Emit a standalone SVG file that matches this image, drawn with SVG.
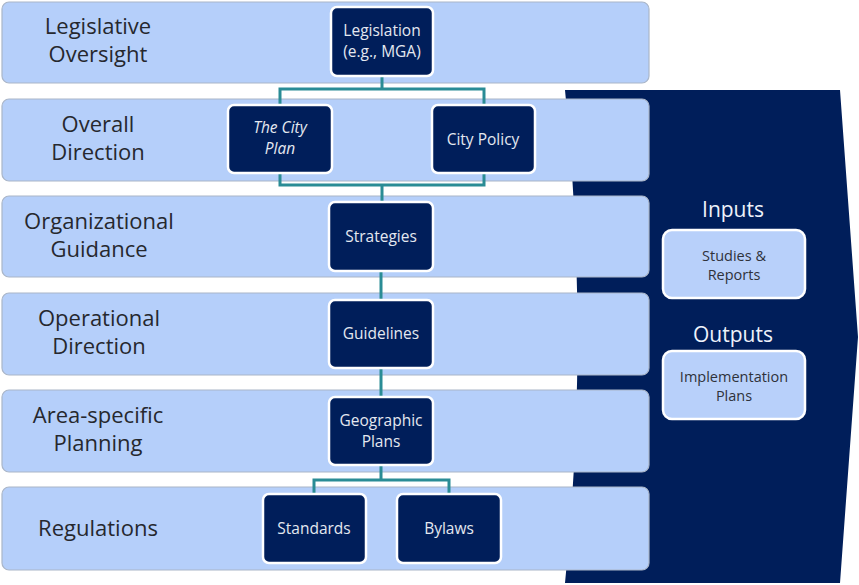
<svg xmlns="http://www.w3.org/2000/svg" width="859" height="585" viewBox="0 0 859 585">
<style>
.band{fill:#b5cffa;stroke:#aab6c8;stroke-width:1.2}
.blabel{font-family:"Open Sans","Liberation Sans",sans-serif;font-size:22px;fill:#26282e;text-anchor:middle}
.node{fill:#001e5a;stroke:#ffffff;stroke-width:2.5}
.ntext{font-family:"Open Sans","Liberation Sans",sans-serif;font-size:15.5px;fill:#e4e8f0;text-anchor:middle}
.side{fill:#b8d0fa;stroke:#ffffff;stroke-width:2.5}
.stext{font-family:"Open Sans","Liberation Sans",sans-serif;font-size:14.5px;fill:#2f323a;text-anchor:middle}
.stitle{font-family:"Open Sans","Liberation Sans",sans-serif;font-size:21px;fill:#eef2fa;text-anchor:middle}
.conn{fill:none;stroke:#2a8c95;stroke-width:3}
</style>
<g id="arrow-bg">
<path d="M565,90 L840,90 L858,337 L840,583 L565,583 Q590,337 565,90 Z" fill="#001e5a"/>
</g>
<g id="bands">
<g id="band-legislative"><rect class="band" x="2" y="2" width="647" height="81" rx="7"/><text class="blabel" x="98" y="34">Legislative</text><text class="blabel" x="98" y="62">Oversight</text></g>
<g id="band-overall"><rect class="band" x="2" y="99" width="647" height="82" rx="7"/><text class="blabel" x="98" y="132">Overall</text><text class="blabel" x="98" y="160">Direction</text></g>
<g id="band-organizational"><rect class="band" x="2" y="196" width="647" height="81" rx="7"/><text class="blabel" x="99" y="229">Organizational</text><text class="blabel" x="99" y="257">Guidance</text></g>
<g id="band-operational"><rect class="band" x="2" y="293" width="647" height="82" rx="7"/><text class="blabel" x="99" y="326">Operational</text><text class="blabel" x="99" y="354">Direction</text></g>
<g id="band-area"><rect class="band" x="2" y="390" width="647" height="82" rx="7"/><text class="blabel" x="98" y="423">Area-specific</text><text class="blabel" x="98" y="451">Planning</text></g>
<g id="band-regulations"><rect class="band" x="2" y="487" width="647" height="83" rx="7"/><text class="blabel" x="98" y="536">Regulations</text></g>
</g>
<g id="connectors">
<path class="conn" d="M382,76 V89 M280,105 V89 H484 V105"/>
<path class="conn" d="M280,173 V185 H484 V173 M382,185 V202"/>
<path class="conn" d="M381,271 V300"/>
<path class="conn" d="M381,368 V397"/>
<path class="conn" d="M381,465 V480 M314,494 V480 H449 V494"/>
</g>
<g id="node-legislation"><rect class="node" x="331" y="7" width="102" height="69" rx="6"/><text class="ntext" x="382" y="36">Legislation</text><text class="ntext" x="382" y="57">(e.g., MGA)</text></g>
<g id="node-cityplan"><rect class="node" x="228" y="105" width="104" height="68" rx="6"/><text class="ntext" x="280" y="133" font-style="italic">The City</text><text class="ntext" x="280" y="154" font-style="italic">Plan</text></g>
<g id="node-citypolicy"><rect class="node" x="432" y="105" width="103" height="68" rx="6"/><text class="ntext" x="483" y="145">City Policy</text></g>
<g id="node-strategies"><rect class="node" x="329" y="202" width="104" height="69" rx="6"/><text class="ntext" x="381" y="242">Strategies</text></g>
<g id="node-guidelines"><rect class="node" x="329" y="300" width="104" height="68" rx="6"/><text class="ntext" x="381" y="339">Guidelines</text></g>
<g id="node-geographic"><rect class="node" x="329" y="397" width="104" height="68" rx="6"/><text class="ntext" x="381" y="426">Geographic</text><text class="ntext" x="381" y="447">Plans</text></g>
<g id="node-standards"><rect class="node" x="263" y="494" width="103" height="69" rx="6"/><text class="ntext" x="314" y="534">Standards</text></g>
<g id="node-bylaws"><rect class="node" x="397" y="494" width="104" height="69" rx="6"/><text class="ntext" x="449" y="534">Bylaws</text></g>
<g id="inputs"><text class="stitle" x="733" y="217">Inputs</text><rect class="side" x="663" y="230" width="142" height="68" rx="9"/><text class="stext" x="734" y="261">Studies &amp;</text><text class="stext" x="734" y="280">Reports</text></g>
<g id="outputs"><text class="stitle" x="733" y="342">Outputs</text><rect class="side" x="663" y="351" width="142" height="68" rx="9"/><text class="stext" x="734" y="382">Implementation</text><text class="stext" x="734" y="401">Plans</text></g>
</svg>
